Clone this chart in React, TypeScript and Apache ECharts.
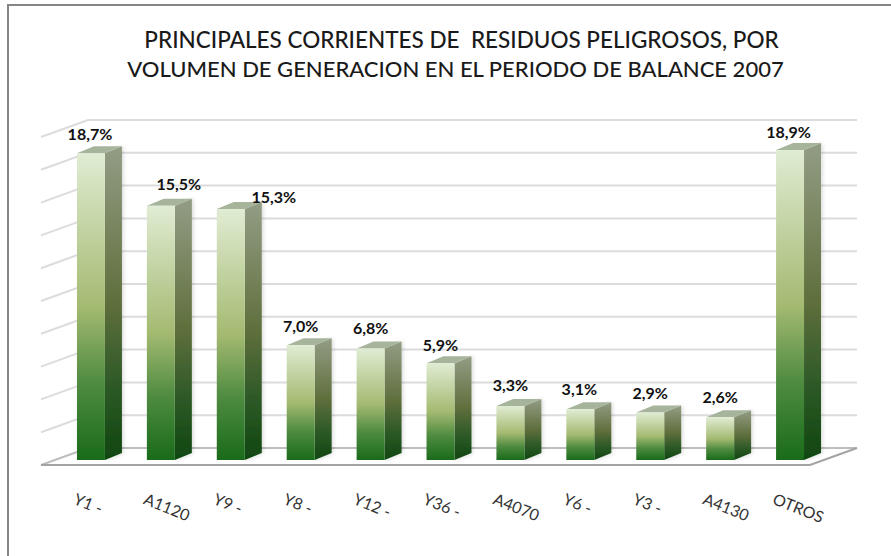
import React, { useEffect, useRef } from "react";
import * as echarts from "echarts";

const titleLines = [
  "PRINCIPALES CORRIENTES DE  RESIDUOS PELIGROSOS, POR",
  "VOLUMEN DE GENERACION EN EL PERIODO DE BALANCE 2007",
];
const categories = ["Y1 -", "A1120", "Y9 -", "Y8 -", "Y12 -", "Y36 -", "A4070", "Y6 -", "Y3 -", "A4130", "OTROS"];
const values = [18.7, 15.5, 15.3, 7.0, 6.8, 5.9, 3.3, 3.1, 2.9, 2.6, 18.9];
const valueLabels = ["18,7%", "15,5%", "15,3%", "7,0%", "6,8%", "5,9%", "3,3%", "3,1%", "2,9%", "2,6%", "18,9%"];
const gridValues = [0, 2, 4, 6, 8, 10, 12, 14, 16, 18, 20];

// Hand-placed label offsets of the reference, relative to the bar's top centre
const labelDx = [-1, 18, 43, 0, 0, 0, 0, -1, 0, 0, -1.5];
const labelDy = [-20, -22, -13, -20, -21, -19, -21, -21, -20, -21, -19];

const titleSizes = [22.5, 22];
const titleCenters = [456.5, 450.5];

const DEPTH_X = 17;
const DEPTH_Y = 7;
const WALL_X = 32;
const WALL_Y = -12;
const FRONT_X = -15;
const FRONT_Y = 5;
const FONT = "Lato, 'Noto Sans', sans-serif";

const vGrad = (stops: [number, string][]) =>
  new echarts.graphic.LinearGradient(0, 0, 0, 1, stops.map(([offset, color]) => ({ offset, color })));

export default function App() {
  const ref = useRef<HTMLDivElement>(null);
  useEffect(() => {
    const chart = echarts.init(ref.current!, null, { renderer: "svg" });

    const renderGrid = (params: any, api: any) => {
      const v = api.value(1);
      const p = api.coord([0, v]);
      const cs = params.coordSys;
      const y = p[1];
      const isFloor = v === 0;
      const x0 = cs.x;
      const x1 = cs.x + cs.width;
      const color = isFloor ? "#bdbdbd" : "#dcdcdc";
      const children: any[] = [
        {
          type: "polyline",
          shape: { points: [[x0 + FRONT_X, y + FRONT_Y], [x0 + WALL_X, y + WALL_Y], [x1 + WALL_X, y + WALL_Y]] },
          style: { stroke: color, lineWidth: 2, fill: "none" },
        },
      ];
      if (isFloor) {
        children.push({
          type: "polyline",
          shape: { points: [[x0 + FRONT_X, y + FRONT_Y], [x1 + FRONT_X, y + FRONT_Y], [x1 + WALL_X, y + WALL_Y]] },
          style: { stroke: "#a3a3a3", lineWidth: 2, fill: "none" },
        });
      }
      return { type: "group", children };
    };

    const renderBar = (_: any, api: any) => {
      const top = api.coord([api.value(0), api.value(1)]);
      const base = api.coord([api.value(0), 0]);
      const w = api.size([1, 0])[0] * 0.4;
      const l = top[0] - w / 2;
      const r = top[0] + w / 2;
      const t = top[1];
      const b = base[1];
      return {
        type: "group",
        children: [
          {
            type: "polygon",
            shape: { points: [[r, t], [r + DEPTH_X, t - DEPTH_Y], [r + DEPTH_X, b - DEPTH_Y], [r, b]] },
            style: {
              fill: vGrad([[0, "#939d85"], [0.5, "#5f6f3c"], [0.75, "#2f5a28"], [1, "#0f4710"]]),
              shadowBlur: 4,
              shadowColor: "rgba(0,0,0,0.18)",
              shadowOffsetX: 1,
            },
          },
          {
            type: "polygon",
            shape: { points: [[l, t], [l + DEPTH_X, t - DEPTH_Y], [r + DEPTH_X, t - DEPTH_Y], [r, t]] },
            style: { fill: "#a6b49b" },
          },
          {
            type: "rect",
            shape: { x: l, y: t, width: w, height: b - t },
            style: {
              fill: vGrad([[0, "#e0ecd3"], [0.5, "#a4ba71"], [0.75, "#4e8b40"], [1, "#196b1a"]]),
            },
          },
        ],
      };
    };

    const renderValueLabel = (_: any, api: any) => {
      const i = api.value(0);
      const top = api.coord([i, api.value(1)]);
      return {
        type: "text",
        x: top[0] + labelDx[i],
        y: top[1] + labelDy[i],
        style: {
          text: valueLabels[i],
          fill: "#111111",
          font: `bold 16px ${FONT}`,
          align: "center",
          verticalAlign: "middle",
        },
      };
    };

    const renderCategoryLabel = (_: any, api: any) => {
      const i = api.value(0);
      const base = api.coord([i, 0]);
      return {
        type: "text",
        x: base[0] - 13,
        y: base[1] + 30,
        rotation: (-22 * Math.PI) / 180,
        style: {
          text: categories[i],
          fill: "#333333",
          font: `16px ${FONT}`,
          align: "left",
          verticalAlign: "top",
        },
      };
    };

    const custom = (renderItem: any, data: number[][], z: number) => ({
      type: "custom",
      coordinateSystem: "cartesian2d",
      renderItem,
      data,
      z,
      silent: true,
      clip: false,
      encode: { x: 0, y: 1 },
    });

    const barRows = values.map((v, i) => [i, v]);

    chart.setOption({
      animation: false,
      backgroundColor: "#ffffff",
      title: titleLines.map((text, i) => ({
        text,
        left: titleCenters[i],
        top: 23 + i * 29,
        textAlign: "center",
        textStyle: { color: "#1a1a1a", fontFamily: FONT, fontWeight: 500, fontSize: titleSizes[i] },
      })),
      grid: { left: 56, top: 132, width: 769, height: 328 },
      xAxis: {
        type: "category",
        data: categories,
        axisLine: { show: false },
        axisTick: { show: false },
        axisLabel: { show: false },
      },
      yAxis: {
        type: "value",
        min: 0,
        max: 20,
        interval: 2,
        axisLine: { show: false },
        axisTick: { show: false },
        axisLabel: { show: false },
        splitLine: { show: false },
      },
      graphic: [
        { type: "rect", shape: { x: 7, y: 4, width: 2, height: 552 }, style: { fill: "#858585" } },
        { type: "rect", shape: { x: 7, y: 4, width: 884, height: 2 }, style: { fill: "#858585" } },
      ],
      series: [
        custom(renderGrid, gridValues.map((v) => [0, v]), 1),
        custom(renderBar, barRows, 2),
        custom(renderValueLabel, barRows, 3),
        custom(renderCategoryLabel, barRows, 3),
      ],
    });
    return () => chart.dispose();
  }, []);
  return <div ref={ref} style={{ position: "absolute", left: 0, top: 0, width: 891, height: 556 }} />;
}
